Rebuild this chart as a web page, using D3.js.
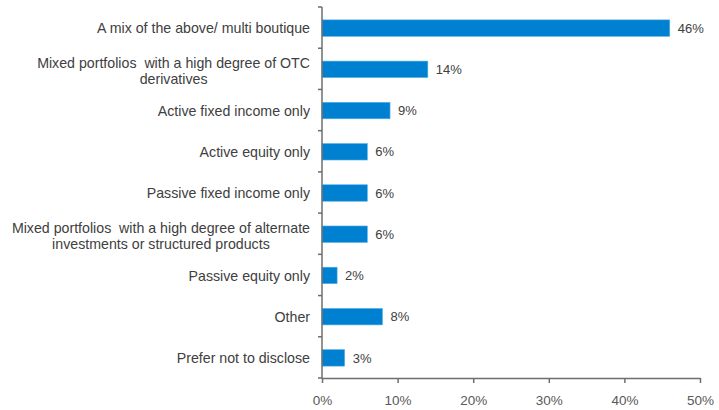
<!DOCTYPE html>
<html>
<head>
<meta charset="utf-8">
<script src="https://cdn.jsdelivr.net/npm/d3@7"></script>
<style>
  html, body { margin: 0; padding: 0; background: #fff; }
  svg { display: block; font-family: "Liberation Sans", Arial, sans-serif; }
  .cat tspan { white-space: pre; }
</style>
</head>
<body>
<svg id="chart" width="719" height="410"></svg>
<script>
// Survey answers, top to bottom
const categories = [
  ["A mix of the above/ multi boutique"],
  ["Mixed portfolios  with a high degree of OTC", "derivatives"],
  ["Active fixed income only"],
  ["Active equity only"],
  ["Passive fixed income only"],
  ["Mixed portfolios  with a high degree of alternate", "investments or structured products"],
  ["Passive equity only"],
  ["Other"],
  ["Prefer not to disclose"]
];
const shares = [46, 14, 9, 6, 6, 6, 2, 8, 3];
const tickValues = [0, 10, 20, 30, 40, 50];

const svg = d3.select("#chart");
const plotLeft = 322, plotRight = 700, plotTop = 7, plotBottom = 378;
const axisColor = "#6e6e6e";
const textColor = "#404040";

const ids = d3.range(categories.length);
const x = d3.scaleLinear().domain([0, 50]).range([plotLeft, plotRight]);
const y = d3.scaleBand().domain(ids).range([plotTop, plotBottom]).paddingInner(0.6).paddingOuter(0.3);
const yTicks = d3.scaleBand().domain(ids).range([plotTop, plotBottom]);

// bars
svg.append("g").selectAll("rect").data(ids).join("rect")
  .attr("x", x(0))
  .attr("y", i => y(i) + 0.5)
  .attr("width", i => x(shares[i]) - x(0))
  .attr("height", y.bandwidth())
  .attr("fill", "#0080d0")
  .attr("stroke", "#5ab0e6")
  .attr("stroke-width", 0.6);

// value labels
svg.append("g").selectAll("text").data(ids).join("text")
  .attr("x", i => x(shares[i]) + 8)
  .attr("y", i => y(i) + y.bandwidth() / 2 + 0.5)
  .attr("dy", "0.36em")
  .attr("font-size", 13)
  .attr("fill", textColor)
  .text(i => shares[i] + "%");

// vertical axis with band boundary ticks
const ax = svg.append("g");
ax.append("line")
  .attr("x1", plotLeft).attr("x2", plotLeft).attr("y1", plotTop).attr("y2", plotBottom)
  .attr("stroke", axisColor).attr("stroke-width", 1.5);
ax.selectAll("line.tk").data(d3.range(categories.length + 1)).join("line")
  .attr("class", "tk")
  .attr("x1", plotLeft - 4).attr("x2", plotLeft)
  .attr("y1", k => plotTop + k * yTicks.step()).attr("y2", k => plotTop + k * yTicks.step())
  .attr("stroke", axisColor).attr("stroke-width", 1.5);

// category labels: right-aligned block, lines centred within it
const labelRight = 310;
const lab = svg.append("g").attr("class", "cat").attr("font-size", 14.2).attr("fill", textColor);
ids.forEach(i => {
  const lines = categories[i];
  const cy = y(i) + y.bandwidth() / 2 + 0.5 + (lines.length > 1 ? 1.5 : 0);
  const t = lab.append("text").attr("text-anchor", "middle");
  lines.forEach((ln, j) => {
    t.append("tspan").attr("x", 0)
      .attr("y", cy + (j - (lines.length - 1) / 2) * 16.5)
      .attr("dy", "0.36em").text(ln);
  });
  let w = 0;
  t.selectAll("tspan").each(function() { w = Math.max(w, this.getComputedTextLength()); });
  t.selectAll("tspan").attr("x", labelRight - w / 2);
});

// horizontal axis
const xAxis = d3.axisBottom(x).tickValues(tickValues).tickSize(5).tickSizeOuter(0)
  .tickFormat(d => d + "%");
const gx = svg.append("g").attr("transform", `translate(0,${plotBottom})`).call(xAxis);
gx.select(".domain").attr("stroke", axisColor).attr("stroke-width", 1.5);
gx.selectAll(".tick line").attr("stroke", axisColor).attr("stroke-width", 1.5);
gx.selectAll(".tick text").attr("fill", "#595959").attr("font-size", 13.5)
  .attr("font-family", "Liberation Sans, Arial, sans-serif").attr("y", 17);
</script>
</body>
</html>
